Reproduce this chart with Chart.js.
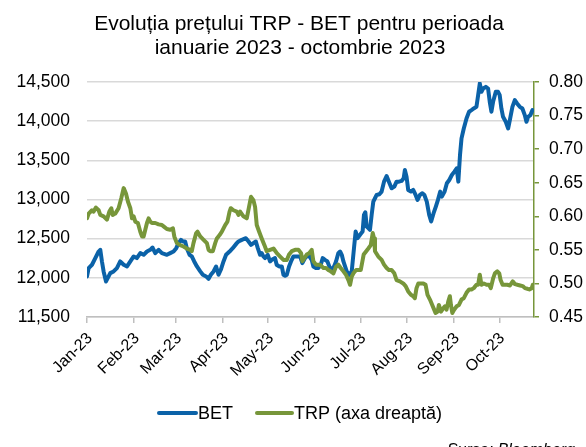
<!DOCTYPE html>
<html>
<head>
<meta charset="utf-8">
<script src="https://cdn.jsdelivr.net/npm/chart.js@4"></script>
<style>
  body { margin: 0; background: #fff; }
</style>
</head>
<body>
<canvas id="myChart" width="586" height="447"></canvas>
<script>
// days counted from the start of the axis (Jan-23)
const monthDays = [0, 31, 59, 90, 120, 151, 181, 212, 243, 273];
const monthLabels = ["Jan-23", "Feb-23", "Mar-23", "Apr-23", "May-23", "Jun-23", "Jul-23", "Aug-23", "Sep-23", "Oct-23"];
const lastDay = 296;

const betDays = [0, 1.1, 3.3, 5.5, 7.7, 8.8, 9.9, 11, 12.6, 15.4, 17.6, 19.8, 22, 24.3, 26.5, 28.7, 30.9, 33, 35.3, 37.5, 39.7, 41.9, 43.4, 45.2, 47.4, 49.6,
  52.9, 55.1, 57.3, 59.1, 60.6, 62.2, 63.5, 65, 66.1, 67.9, 69.4, 71, 72.8, 75, 76.7, 78.9, 80.5, 82, 83.8, 85.5, 87.1, 88.6, 90.4, 92.1, 94.4, 96.5, 99.2,
  100.3, 102.5, 105.2, 107, 108.6, 110.2, 111.8, 113.1, 114.6, 115.7, 116.8, 117.9, 119.7, 121.2, 122.4, 124.5, 125.6, 127.2, 129, 130.1, 131.2, 132.3, 133.8, 135.1, 136.7, 138.9, 141.1, 142.6, 144.4, 146.6, 148.8,
  149.9, 151.6, 153.2, 154.8, 156.1, 157.6, 159.2, 160.9, 162, 163.6, 164.9, 166.4, 167.6, 168.7, 169.8, 170.9, 172, 173.7, 175.3, 176.8, 177.9, 179.2, 180.8, 182.5, 183.4, 184.3, 185.2, 186.3, 187.4, 188.5, 189.6, 190.7, 191.8, 193.6, 195.1, 196.7, 198.4,
  199.9, 201.7, 203.5, 205, 206.6, 208.3, 209.7, 210.5, 211.6, 212.7, 214.5, 216, 217.6, 218.9, 220.5, 222.1, 223.4, 225, 226.6, 227.9, 229.5, 231, 232.4, 233.9, 235, 236.8, 238.3, 239.9, 241.6, 243.3, 244.8, 245.9, 247, 248,
  249.5, 251.3, 253, 254.6, 256.1, 257.9, 259, 260.1, 261.2, 262.3, 264.1, 265.6, 266.7, 267.8, 268.9, 270.7, 272.2, 273.3, 274.4, 275.5, 277.3, 278.9, 280, 281.7, 283.3, 284.8, 286.6, 288.3, 289.9, 291, 292.1, 293.6, 295];
const betValues = [12018, 12124, 12167, 12252, 12336, 12358, 12209, 12082, 11954, 12060, 12082, 12124, 12209, 12167, 12145, 12209, 12273, 12252, 12315, 12294, 12336, 12358, 12387, 12315, 12358, 12315,
  12294, 12315, 12336, 12379, 12443, 12485, 12464, 12464, 12379, 12294, 12273, 12209, 12145, 12082, 12039, 12018, 11988, 12039, 12082, 12145, 12039, 12103, 12209, 12294, 12336, 12379, 12443,
  12464, 12485, 12506, 12464, 12421, 12443, 12464, 12379, 12294, 12315, 12273, 12252, 12294, 12209, 12230, 12252, 12167, 12145, 12145, 12039, 12026, 12039, 12145, 12209, 12273, 12273, 12273, 12188, 12252, 12294, 12230,
  12145, 12124, 12124, 12167, 12252, 12230, 12209, 12124, 12103, 12145, 12209, 12315, 12336, 12294, 12209, 12145, 12082, 12039, 12082, 12379, 12591, 12506, 12549, 12591, 12804, 12837, 12655, 12634, 12612, 12804, 12973, 13016, 13058, 13067, 13101, 13228, 13300,
  13228, 13143, 13165, 13228, 13228, 13237, 13271, 13377, 13292, 13122, 13101, 13122, 13058, 12995, 13058, 13080, 13058, 12973, 12804, 12719, 12825, 12910, 12995, 13101, 13037, 13101, 13207, 13249, 13313, 13356, 13398, 13228, 13568, 13780,
  13907, 14035, 14120, 14141, 14162, 14183, 14332, 14481, 14375, 14417, 14438, 14417, 14247, 14120, 14247, 14375, 14375, 14332, 14162, 14056, 13992, 13907, 14014, 14183, 14268, 14226, 14183, 14162, 14077, 13992, 14056, 14077, 14141];

const trpDays = [0, 1.1, 3.3, 4.4, 5.9, 7.7, 8.8, 11, 13.2, 14.8, 16.1, 17, 18.7, 20.9, 22.7, 24.3, 25.8, 27.1, 28.7, 29.8, 30.9, 32, 33.7, 35.3, 36.4, 37.5, 38.6, 39.7, 40.8, 41.9, 43, 45.2, 47.4, 49.6,
  50.7, 52.9, 55.1, 56.9, 57.8, 59.5, 61.7, 63.9, 66.1, 68.4, 69.4, 70.5, 72.3, 73.2, 75, 77.2, 79.4, 80.5, 81.6, 83.3, 84.9, 86, 87.8, 89.3, 90.4, 91.5, 93, 94.4, 95.2, 97, 99.2,
  100.3, 101.4, 103.6, 105.8, 107.3, 108.6, 110.2, 111.3, 112.4, 114, 115.7, 117.5, 119, 121.2, 123.5, 125.7, 127.9, 130.1, 132.3, 133.8, 135.6, 137.8, 140, 141.8, 142.6, 144, 145.5, 147.1, 148.8,
  149.9, 151.6, 153.2, 154.8, 156.6, 158.3, 159.8, 161.4, 163.2, 164.9, 166.4, 168, 169.8, 171.5, 173.1, 174.2, 175.3, 176.4, 178.2, 179.7, 181.3, 183.2, 184.9, 186.3, 187.9, 189.2, 190.1, 190.7, 192.9, 195.1, 196.7, 198.4,
  199.9, 201.7, 203.5, 205, 207.2, 209.4, 211, 212.7, 214.5, 216, 217.1, 218.2, 219.4, 221.1, 222.7, 224.2, 225.5, 227.1, 228.6, 229.9, 230.8, 232.2, 233, 234.4, 235.9, 237, 238.1, 239.2, 240.3, 241, 241.9, 243.2, 244.8, 246.3, 248,
  249.5, 251.3, 253, 254.6, 256.1, 257.9, 259, 260.1, 261.2, 262.8, 264.6, 266.3, 267.4, 269, 270.1, 271.7, 273, 273.9, 275.2, 276.8, 278.3, 280.1, 281.9, 283.4, 285, 286.8, 288.5, 290, 291.6, 292.9, 294.5, 295.2];
const trpValues = [0.597, 0.604, 0.609, 0.607, 0.613, 0.609, 0.602, 0.600, 0.595, 0.607, 0.612, 0.602, 0.604, 0.612, 0.627, 0.642, 0.634, 0.622, 0.612, 0.597, 0.600, 0.592, 0.590, 0.577, 0.570, 0.570, 0.580, 0.590, 0.597, 0.592, 0.590, 0.590, 0.588, 0.587,
  0.585, 0.581, 0.580, 0.582, 0.570, 0.560, 0.557, 0.555, 0.552, 0.550, 0.548, 0.560, 0.575, 0.577, 0.570, 0.565, 0.560, 0.550, 0.548, 0.548, 0.560, 0.567, 0.572, 0.577, 0.582, 0.587, 0.592, 0.607, 0.612, 0.609, 0.607,
  0.602, 0.607, 0.600, 0.597, 0.614, 0.629, 0.624, 0.614, 0.587, 0.577, 0.567, 0.557, 0.548, 0.550, 0.552, 0.545, 0.540, 0.535, 0.535, 0.543, 0.548, 0.550, 0.550, 0.545, 0.533, 0.538, 0.543, 0.545, 0.550,
  0.533, 0.528, 0.528, 0.527, 0.523, 0.523, 0.520, 0.518, 0.515, 0.525, 0.528, 0.523, 0.518, 0.513, 0.505, 0.498, 0.510, 0.515, 0.520, 0.520, 0.520, 0.543, 0.548, 0.552, 0.557, 0.575, 0.567, 0.548, 0.540, 0.535, 0.528, 0.523,
  0.520, 0.520, 0.515, 0.505, 0.503, 0.500, 0.496, 0.488, 0.483, 0.481, 0.478, 0.493, 0.500, 0.500, 0.500, 0.498, 0.483, 0.476, 0.468, 0.461, 0.456, 0.458, 0.468, 0.458, 0.463, 0.466, 0.461, 0.473, 0.481, 0.468, 0.456, 0.461, 0.466, 0.468, 0.476,
  0.478, 0.486, 0.491, 0.491, 0.493, 0.498, 0.498, 0.513, 0.498, 0.500, 0.498, 0.498, 0.493, 0.508, 0.515, 0.518, 0.515, 0.505, 0.498, 0.498, 0.498, 0.497, 0.503, 0.499, 0.498, 0.497, 0.496, 0.493, 0.492, 0.491, 0.493, 0.498];

const blue = "#0B62A8";
const green = "#77963A";
const font = '"Liberation Sans", Arial, sans-serif';

const toPoints = (xs, ys) => xs.map((x, i) => ({ x: x, y: ys[i] }));

// title, legend and source line
const extraText = {
  id: "extraText",
  afterDraw(chart) {
    const c = chart.ctx;
    c.save();
    c.fillStyle = "#000";
    c.textAlign = "center";
    c.textBaseline = "alphabetic";
    c.font = "21px " + font;
    c.fillText("Evoluția prețului TRP - BET pentru perioada", 299, 30);
    c.fillText("ianuarie 2023 - octombrie 2023", 300, 54);

    c.lineWidth = 4;
    c.lineCap = "round";
    c.strokeStyle = blue;
    c.beginPath(); c.moveTo(159, 413); c.lineTo(196, 413); c.stroke();
    c.strokeStyle = green;
    c.beginPath(); c.moveTo(257, 413); c.lineTo(292, 413); c.stroke();
    c.font = "18px " + font;
    c.textAlign = "left";
    c.textBaseline = "middle";
    c.fillText("BET", 198, 414);
    c.fillText("TRP (axa dreaptă)", 294, 414);

    c.font = "italic 16px " + font;
    c.textAlign = "right";
    c.textBaseline = "alphabetic";
    c.fillText("Sursa: Bloomberg", 575, 455);
    c.restore();
  }
};

new Chart(document.getElementById("myChart"), {
  type: "line",
  plugins: [extraText],
  data: {
    datasets: [
      {
        label: "TRP (axa dreaptă)",
        data: toPoints(trpDays, trpValues),
        yAxisID: "y1",
        borderColor: green,
        borderWidth: 4,
        pointRadius: 0,
        tension: 0,
        borderJoinStyle: "round",
        borderCapStyle: "round",
        order: 0,
      },
      {
        label: "BET",
        data: toPoints(betDays, betValues),
        yAxisID: "y",
        borderColor: blue,
        borderWidth: 4,
        pointRadius: 0,
        tension: 0,
        borderJoinStyle: "round",
        borderCapStyle: "round",
        order: 1,
      },
    ],
  },
  options: {
    responsive: false,
    animation: false,
    layout: { padding: { top: 82, right: 0, bottom: 0, left: 0 } },
    plugins: {
      legend: { display: false },
      title: { display: false },
      tooltip: { enabled: false },
    },
    scales: {
      x: {
        type: "linear",
        min: 0,
        max: lastDay,
        afterBuildTicks: (scale) => {
          scale.ticks = monthDays.map((d) => ({ value: d }));
        },
        afterFit: (scale) => { scale.height = 130; },
        ticks: {
          autoSkip: false,
          minRotation: 45,
          maxRotation: 45,
          color: "#000",
          padding: 6,
          labelOffset: 3,
          font: { family: font, size: 16 },
          callback: (v) => monthLabels[monthDays.indexOf(v)],
        },
        grid: { drawOnChartArea: false, color: "#bfbfbf", tickLength: 6, lineWidth: 1.5 },
        border: { color: "#bfbfbf", width: 1.5 },
      },
      y: {
        position: "left",
        min: 11500,
        max: 14500,
        afterFit: (scale) => { scale.width = 87; },
        ticks: {
          stepSize: 500,
          color: "#000",
          padding: 17,
          font: { family: font, size: 17.5 },
          callback: (v) => v.toLocaleString("en-US"),
        },
        grid: { color: "#d9d9d9", lineWidth: 1.5, drawTicks: false },
        border: { display: false },
      },
      y1: {
        position: "right",
        min: 0.45,
        max: 0.8,
        afterFit: (scale) => { scale.width = 52; },
        ticks: {
          stepSize: 0.05,
          color: "#000",
          padding: 10,
          font: { family: font, size: 17.5 },
          callback: (v) => v.toFixed(2),
        },
        grid: { drawOnChartArea: false, color: green, tickLength: 5, lineWidth: 1.5 },
        border: { color: green, width: 1.5 },
      },
    },
  },
});
</script>
</body>
</html>
